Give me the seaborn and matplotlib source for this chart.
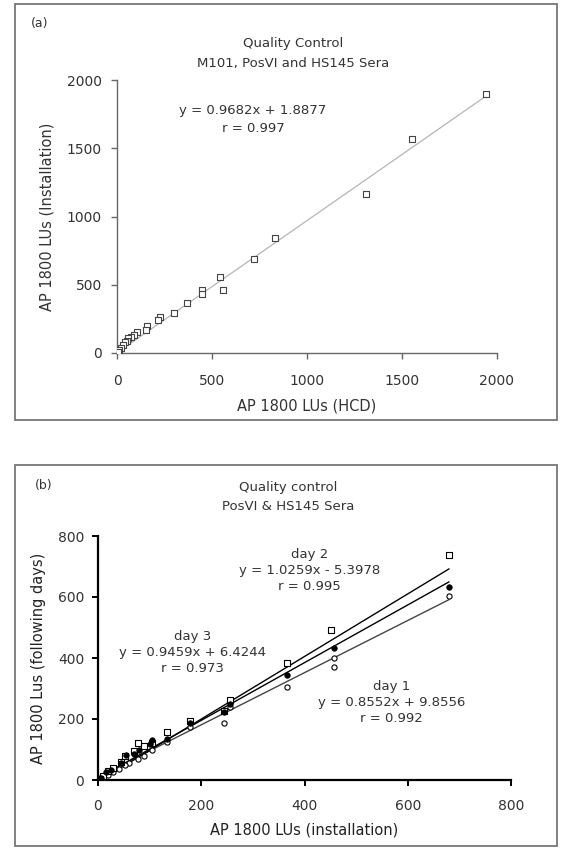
import matplotlib
matplotlib.use("Agg")
import matplotlib.pyplot as plt
import numpy as np
import pandas as pd
import seaborn as sns
from matplotlib.patches import Rectangle

# panel (a): HCD vs installation, all three sera
hcd = [1940, 1555, 1310, 830, 720, 540, 560, 445, 445, 370, 300, 225, 215,
       160, 150, 105, 90, 75, 60, 55, 40, 30, 20, 10, 5]
inst = [1900, 1565, 1165, 845, 690, 560, 460, 460, 435, 365, 295, 265, 245,
        195, 170, 155, 135, 120, 110, 90, 80, 60, 40, 20, 8]
fit_a = (0.9682, 1.8877)

# panel (b): installation vs following days
day1_x = [680, 457, 457, 366, 245, 256, 178, 134, 104, 90, 78, 60, 52, 40, 30, 20, 10, 3]
day1_y = [603, 400, 370, 306, 188, 240, 175, 125, 98, 80, 70, 55, 50, 35, 25, 15, 8, 2]
day2_x = [680, 452, 366, 256, 245, 178, 134, 104, 90, 78, 70, 52, 45, 30, 20, 10, 3]
day2_y = [738, 492, 385, 262, 225, 193, 158, 120, 110, 121, 95, 80, 60, 40, 30, 12, 3]
day3_x = [680, 457, 366, 245, 256, 178, 134, 104, 100, 80, 70, 55, 45, 25, 15, 5, 2]
day3_y = [634, 433, 344, 224, 250, 188, 135, 131, 118, 100, 85, 82, 55, 33, 25, 8, 2]
days = ["day 1", "day 2", "day 3"]
slopes = [0.8552, 1.0259, 0.9459]
intercepts = [9.8556, -5.3978, 6.4244]
r_vals = [0.992, 0.995, 0.973]

sns.set_style("ticks")
plt.rcParams["font.family"] = ["DejaVu Sans"]
txt = "#333333"

W, H = 568, 868
fig = plt.figure(figsize=(W / 100, H / 100), dpi=100)

def fx(px):
    return px / W

def fy(py):
    return 1 - py / H

# frames round the two panels
for top, bot in [(4, 420), (465, 846)]:
    fig.add_artist(Rectangle((fx(15), fy(bot)), fx(557) - fx(15), fy(top) - fy(bot),
                             transform=fig.transFigure, fill=False,
                             edgecolor="#777777", lw=1.3))

# ---------- (a) ----------
axa = fig.add_axes([fx(117), fy(353), fx(497) - fx(117), fy(80) - fy(353)])
df_a = pd.DataFrame({"hcd": hcd, "inst": inst})
xl = np.array([0, max(hcd)])
sns.lineplot(x=xl, y=fit_a[0] * xl + fit_a[1], ax=axa, color="#b5b5b5", lw=0.9)
sns.scatterplot(data=df_a, x="hcd", y="inst", ax=axa, marker="s", s=13,
                facecolor="white", edgecolor="#444444", linewidth=0.8, zorder=3)
axa.set_xlim(0, 2000)
axa.set_ylim(0, 2000)
axa.set_xticks([0, 500, 1000, 1500, 2000])
axa.set_yticks([0, 500, 1000, 1500, 2000])
sns.despine(ax=axa)
for s in ["left", "bottom"]:
    axa.spines[s].set_color("#666666")
    axa.spines[s].set_linewidth(1.0)
axa.tick_params(length=4, width=1.0, color="#666666", labelsize=10,
                labelcolor=txt)
axa.tick_params(axis="x", pad=11)
axa.tick_params(axis="y", pad=7)
axa.set_xlabel("AP 1800 LUs (HCD)", fontsize=10.5, color=txt)
axa.set_ylabel("AP 1800 LUs (Installation)", fontsize=10.5, color=txt)
axa.xaxis.set_label_coords(0.5, -0.168)
axa.yaxis.set_label_coords(-0.165, 0.5)
axa.text(716, 1773, "y = 0.9682x + 1.8877", ha="center", va="center",
         fontsize=9.5, color=txt)
axa.text(716, 1648, "r = 0.997", ha="center", va="center",
         fontsize=9.5, color=txt)
fig.text(fx(40), fy(23), "(a)", ha="center", va="center", fontsize=9, color=txt)
fig.text(fx(293), fy(43), "Quality Control", ha="center", va="center",
         fontsize=9.5, color=txt)
fig.text(fx(293), fy(63), "M101, PosVI and HS145 Sera", ha="center",
         va="center", fontsize=9.5, color=txt)

# ---------- (b) ----------
axb = fig.add_axes([fx(98), fy(780), fx(511) - fx(98), fy(536) - fy(780)])
xs = [day1_x, day2_x, day3_x]
ys = [day1_y, day2_y, day3_y]
line_cols = ["#444444", "black", "black"]
for i in range(3):
    xr = np.array([0, max(xs[i])])
    sns.lineplot(x=xr, y=slopes[i] * xr + intercepts[i], ax=axb,
                 color=line_cols[i], lw=1.0)
sns.scatterplot(x=day1_x, y=day1_y, ax=axb, marker="o", s=14,
                facecolor="white", edgecolor="black", linewidth=0.8, zorder=3)
sns.scatterplot(x=day2_x, y=day2_y, ax=axb, marker="s", s=16,
                facecolor="white", edgecolor="black", linewidth=0.8, zorder=3)
sns.scatterplot(x=day3_x, y=day3_y, ax=axb, marker="o", s=16,
                color="black", edgecolor="black", linewidth=0.5, zorder=4)
axb.set_xlim(0, 800)
axb.set_ylim(0, 800)
axb.set_xticks([0, 200, 400, 600, 800])
axb.set_yticks([0, 200, 400, 600, 800])
sns.despine(ax=axb)
for s in ["left", "bottom"]:
    axb.spines[s].set_color("black")
    axb.spines[s].set_linewidth(1.6)
axb.tick_params(length=4, width=1.4, color="black", labelsize=10,
                labelcolor=txt)
axb.tick_params(axis="x", pad=10)
axb.tick_params(axis="y", pad=6)
axb.set_xlabel("AP 1800 LUs (installation)", fontsize=10.5, color="#222222")
axb.set_ylabel("AP 1800 Lus (following days)", fontsize=10.5, color="#222222")
axb.xaxis.set_label_coords(0.5, -0.176)
axb.yaxis.set_label_coords(-0.127, 0.5)

label_pos = [(569, 306), (409, 738), (183, 469)]
for i in range(3):
    lx, ly = label_pos[i]
    axb.text(lx, ly, days[i], ha="center", va="center", fontsize=9.5, color=txt)
    sign = "+" if intercepts[i] >= 0 else "-"
    axb.text(lx, ly - 52, f"y = {slopes[i]:.4f}x {sign} {abs(intercepts[i]):.4f}",
             ha="center", va="center", fontsize=9.5, color=txt)
    axb.text(lx, ly - 104, f"r = {r_vals[i]:.3f}", ha="center", va="center",
             fontsize=9.5, color=txt)
fig.text(fx(44), fy(485), "(b)", ha="center", va="center", fontsize=9, color=txt)
fig.text(fx(288), fy(488), "Quality control", ha="center", va="center",
         fontsize=9.5, color=txt)
fig.text(fx(288), fy(506), "PosVI & HS145 Sera", ha="center", va="center",
         fontsize=9.5, color=txt)

fig.savefig("out.png", dpi=100)
